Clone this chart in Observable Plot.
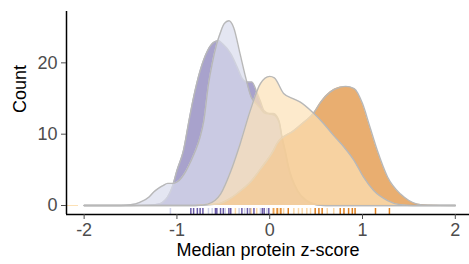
<!DOCTYPE html>
<html><head><meta charset="utf-8">
<script src="https://cdn.jsdelivr.net/npm/d3@7"></script>
<script src="https://cdn.jsdelivr.net/npm/@observablehq/plot@0.6"></script>
<style>
body{margin:0;background:#fff;}
svg{display:block;}
</style>
</head><body><div id="chart"></div>
<script>
// Groups in drawing order
const groupNames = ["Group 1", "Group 2", "Group 3", "Group 4"];
const fillColors = ["#837ab6", "#d8dbec", "#e08b33", "#fce1b6"];
const rugColors  = ["#6a5ba8", "#cdd0e8", "#e0801e", "#fbd6a4"];

// Density (count) curves
const x1 = [-2, -1.5, -1.3, -1.2, -1.15, -1.1, -1.05, -1.0, -0.93, -0.87, -0.82, -0.75, -0.67, -0.6, -0.55, -0.51, -0.42, -0.35, -0.3, -0.24, -0.19, -0.14, -0.1, -0.06, 0.0, 0.04, 0.1, 0.13, 0.17, 0.2, 0.3, 0.4, 0.5, 0.6, 2];
const y1 = [0, 0, 0.05, 0.2, 0.5, 1.2, 2.6, 4.9, 7.7, 11.9, 15.2, 18.9, 21.7, 22.9, 23.1, 22.7, 21.3, 19.4, 17.9, 17.3, 17.3, 15.9, 14.6, 13.3, 12.9, 12.9, 11.9, 9.8, 7.5, 5.6, 2.1, 0.7, 0.15, 0, 0];

const x2 = [-2, -1.6, -1.5, -1.4, -1.3, -1.25, -1.2, -1.15, -1.1, -1.05, -1.0, -0.95, -0.9, -0.85, -0.8, -0.75, -0.71, -0.66, -0.62, -0.57, -0.53, -0.49, -0.44, -0.39, -0.32, -0.26, -0.2, -0.14, -0.1, -0.06, 0, 0.04, 0.1, 0.13, 0.17, 0.2, 0.3, 0.4, 0.5, 0.6, 2];
const y2 = [0, 0, 0.1, 0.45, 1.2, 1.9, 2.4, 2.8, 3.1, 3.1, 3.3, 3.9, 4.9, 6.2, 7.7, 9.6, 11.9, 17.0, 19.9, 22.7, 24.3, 25.5, 25.9, 25.0, 21.3, 18.0, 15.2, 14.2, 13.6, 13.0, 12.8, 12.7, 11.7, 9.6, 7.3, 5.4, 2.0, 0.6, 0.1, 0, 0];

const x3 = [-2, -0.8, -0.57, -0.45, -0.32, -0.2, -0.1, 0.04, 0.08, 0.26, 0.36, 0.47, 0.55, 0.65, 0.76, 0.82, 0.91, 1.0, 1.08, 1.16, 1.27, 1.41, 1.5, 1.59, 1.7, 2];
const y3 = [0, 0, 0.2, 0.8, 2.0, 3.4, 5.1, 7.7, 8.7, 10.5, 11.6, 12.9, 14.5, 15.9, 16.6, 16.7, 16.4, 14.3, 11.0, 7.7, 4.0, 1.6, 0.7, 0.2, 0.05, 0];

const x4 = [-2, -0.8, -0.67, -0.53, -0.42, -0.32, -0.21, -0.1, 0.0, 0.05, 0.15, 0.25, 0.33, 0.46, 0.58, 0.69, 0.8, 0.91, 1.01, 1.12, 1.27, 1.41, 1.55, 2];
const y4 = [0, 0, 0.2, 1.6, 4.8, 8.6, 13.3, 17.1, 18.1, 17.9, 15.7, 15.0, 14.5, 13.1, 11.5, 9.8, 8.2, 6.3, 4.0, 2.1, 0.7, 0.1, 0, 0];

// Rug values (individual observations)
const rug1 = [-0.85, -0.82, -0.78, -0.75, -0.72, -0.585, -0.57, -0.53, -0.50, -0.44, -0.42, -0.30, -0.24, -0.21, -0.17, -0.08, -0.06, -0.01];
const rug2 = [-1.07, -0.66, -0.62, -0.48, -0.33, -0.27, -0.10, -0.03];
const rug3 = [0.04, 0.08, 0.12, 0.2, 0.49, 0.53, 0.565, 0.76, 0.80, 0.85, 0.89, 0.92, 1.14, 1.29];
const rug4 = [-0.37, -0.2, -0.14, 0.05, 0.10, 0.15, 0.26, 0.31, 0.35, 0.40, 0.44, 0.62, 0.69];

const xTicks = [-2, -1, 0, 1, 2];
const yTicks = [0, 10, 20];
const xDomain = [-2.19, 2.153];
const yDomain = [-1.26, 27.2];
const xTitle = "Median protein z-score";
const yTitle = "Count";

const curveX = [x1, x2, x3, x4];
const curveY = [y1, y2, y3, y4];
const rugs = [rug1, rug2, rug3, rug4];

const tables = curveX.map((xs, i) => xs.map((x, j) => ({group: groupNames[i], x, y: curveY[i][j]})));

const marks = [];
tables.forEach((t, i) => {
  marks.push(Plot.areaY(t, {x: "x", y: "y", fill: fillColors[i], fillOpacity: 0.7, curve: "monotone-x"}));
  marks.push(Plot.lineY(t, {x: "x", y: "y", stroke: "#b8b8b8", strokeWidth: 1.4, curve: "monotone-x"}));
});
rugs.forEach((r, i) => {
  marks.push(Plot.ruleX(r, {x: d => d, stroke: rugColors[i], strokeWidth: 1.5, insetTop: 197}));
});
rugColors.forEach((c, i) => {
  marks.push(Plot.ruleY([0], {stroke: fillColors[i], strokeWidth: 1.5, insetRight: 391, shapeRendering: "crispEdges"}));
});
marks.push(Plot.ruleX([xDomain[0]], {stroke: "black", strokeWidth: 1.5}));
marks.push(Plot.ruleY([yDomain[0]], {stroke: "black", strokeWidth: 1.5}));
marks.push(Plot.axisX({ticks: xTicks, tickSize: 5, tickPadding: 4, tickFormat: d => String(d), fontSize: 18, color: "#4d4d4d", label: null}));
marks.push(Plot.axisY({ticks: yTicks, tickSize: 5, tickPadding: 4, tickFormat: d => String(d), fontSize: 18, color: "#4d4d4d", label: null}));
marks.push(Plot.text([yTitle], {frameAnchor: "left", dx: -46, rotate: -90, fontSize: 18, fill: "black"}));
marks.push(Plot.text([xTitle], {frameAnchor: "bottom", dy: 41, fontSize: 18, fill: "black"}));

const chart = Plot.plot({
  width: 469,
  height: 264,
  marginLeft: 66,
  marginRight: 0,
  marginTop: 11,
  marginBottom: 50,
  style: {fontFamily: "'Liberation Sans', Arial, sans-serif", background: "white", overflow: "visible"},
  x: {domain: xDomain},
  y: {domain: yDomain},
  marks
});
document.getElementById("chart").appendChild(chart);
</script>
</body></html>
